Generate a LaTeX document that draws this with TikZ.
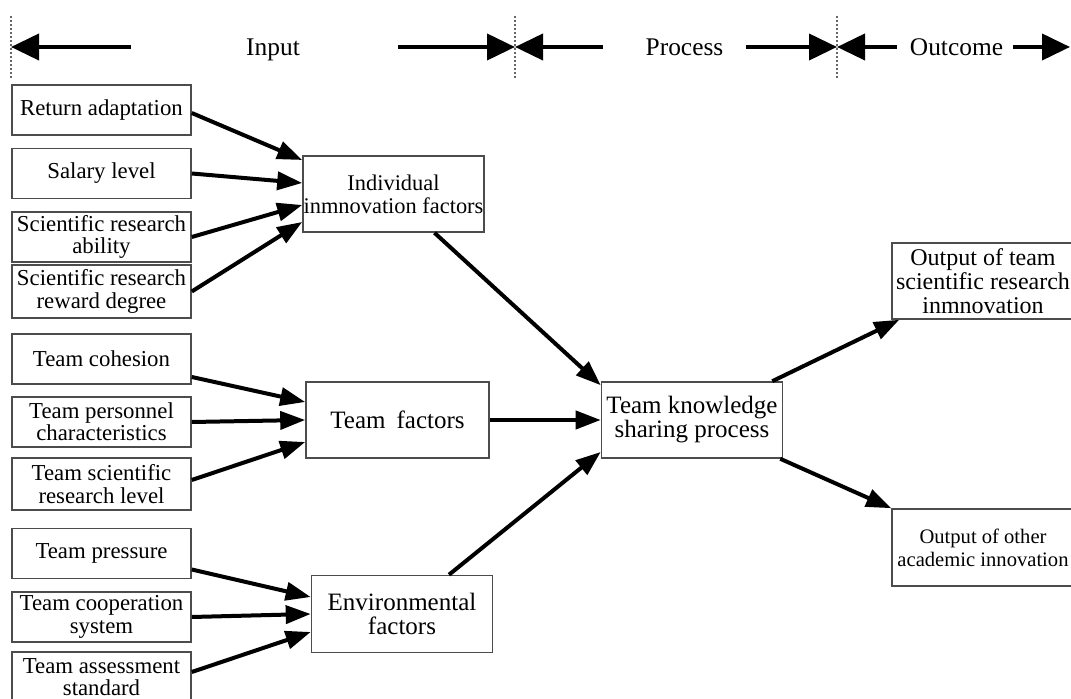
\documentclass[tikz,border=0pt]{standalone}
\usepackage{fontspec}
\setmainfont{Liberation Serif}
\usetikzlibrary{arrows.meta,calc}
\begin{document}
\begin{tikzpicture}[x=0.5pt,y=-0.5pt,
  box/.style={draw=black!70, line width=0.8pt, inner sep=0pt, align=center, anchor=center},
  leftbox/.style={box, minimum width=89.5pt, minimum height=25pt, font=\fontsize{11.4}{11.2}\selectfont},
  midbox/.style={box, minimum width=91pt, minimum height=38pt, font=\fontsize{12.5}{12}\selectfont},
  outbox/.style={box, minimum width=91pt, minimum height=38pt},
  flow/.style={line width=2pt, -{Triangle[length=12.5pt,width=9pt]}},
  hdr/.style={line width=2pt, -{Triangle[length=14pt,width=13pt]}},
  hdrtext/.style={font=\fontsize{12.7}{14}\selectfont, inner sep=0pt, anchor=base},
  sep/.style={draw=black!60, line width=1.2pt, dash pattern=on 1pt off 1pt}
]
\useasboundingbox (0,0) rectangle (1071,699);

% header
\draw[sep] (11,16) -- (11,78);
\draw[sep] (515,16) -- (515,78);
\draw[sep] (837,16) -- (837,78);
\coordinate (h1s) at (131,47); \coordinate (h1e) at (11,47);
\coordinate (h2s) at (398,47); \coordinate (h2e) at (515,47);
\coordinate (h3s) at (603,47); \coordinate (h3e) at (515,47);
\coordinate (h4s) at (746,47); \coordinate (h4e) at (837,47);
\coordinate (h5s) at (897,47); \coordinate (h5e) at (837,47);
\coordinate (h6s) at (1013,47); \coordinate (h6e) at (1070,47);
\node[hdrtext] (tin) at (273,56) {Input};
\node[hdrtext] (tpr) at (684.5,56) {Process};
\node[hdrtext] (tout) at (956.5,56) {Outcome};
\draw[hdr] (h1s) -- (h1e);
\draw[hdr] (h2s) -- (h2e);
\draw[hdr] (h3s) -- (h3e);
\draw[hdr] (h4s) -- (h4e);
\draw[hdr] (h5s) -- (h5e);
\draw[hdr] (h6s) -- (h6e);

% left column
\node[leftbox] (ra) at (101.5,110) {Return adaptation};
\node[leftbox] (sl) at (101.5,173.5) {Salary level};
\node[leftbox] (sa) at (101.5,237) {Scientific research\\ability};
\node[leftbox, minimum height=26.5pt] (sr) at (101.5,291.5) {Scientific research\\reward degree};
\node[leftbox] (tc) at (101.5,359) {Team cohesion};
\node[leftbox] (tp) at (101.5,422) {Team personnel\\characteristics};
\node[leftbox, minimum height=26pt] (tl) at (101.5,484) {Team scientific\\research level};
\node[leftbox] (pr) at (101.5,553.5) {Team pressure};
\node[leftbox] (co) at (101.5,617) {Team cooperation\\system};
\node[leftbox] (as) at (101.5,677) {Team assessment\\standard};

% middle column
\node[midbox, minimum width=90.5pt, font=\fontsize{11.2}{11.5}\selectfont] (ind) at (393.5,194) {Individual\\inmnovation factors};
\node[midbox, minimum width=91.5pt] (tf) at (397.5,420) {Team\;\,factors};
\node[midbox, minimum width=90.5pt, minimum height=38.5pt] (env) at (402,614) {Environmental\\factors};
\node[midbox, minimum width=90.5pt] (tk) at (692,420) {Team knowledge\\sharing process};

% outcome column
\node[outbox, font=\fontsize{12}{12}\selectfont] (ot) at (983,281) {Output of team\\scientific research\\inmnovation};
\node[outbox, minimum height=38.5pt, font=\fontsize{10.3}{11.5}\selectfont] (oo) at (983,547.5) {Output of other\\academic innovation};

% connectors
\draw[flow] ($(ra.east)+(0,3)$) -- ($(ind.west)+(0,-34)$);
\draw[flow] (sl.east) -- ($(ind.west)+(0,-11)$);
\draw[flow] (sa.east) -- ($(ind.west)+(0,11)$);
\draw[flow] (sr.east) -- ($(ind.west)+(0,28)$);

\draw[flow] ($(tc.east)+(0,18)$) -- ($(tf.west)+(0,-18)$);
\draw[flow] (tp.east) -- (tf.west);
\draw[flow] ($(tl.east)+(0,-4)$) -- ($(tf.west)+(0,22)$);

\draw[flow] ($(pr.east)+(0,16)$) -- ($(env.west)+(0,-17)$);
\draw[flow] (co.east) -- (env.west);
\draw[flow] ($(as.east)+(0,-5)$) -- ($(env.west)+(0,18)$);

\draw[flow] ($(ind.south)+(41,0)$) -- ($(tk.north west)+(0,4)$);
\draw[flow] (tf.east) -- (tk.west);
\draw[flow] ($(env.north)+(47,0)$) -- ($(tk.west)+(0,32)$);

\draw[flow] ($(tk.north east)+(-11,0)$) -- ($(ot.south west)+(8,0)$);
\draw[flow] ($(tk.south east)+(-3,0)$) -- (oo.north west);
\end{tikzpicture}
\end{document}
